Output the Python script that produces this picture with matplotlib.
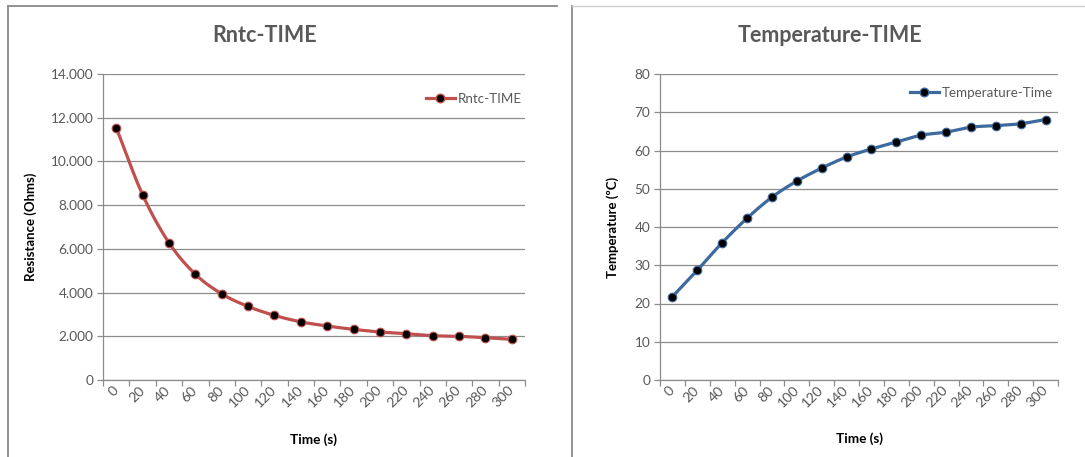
import numpy as np
import matplotlib
matplotlib.use("Agg")
import matplotlib.pyplot as plt
from matplotlib.lines import Line2D
from matplotlib.ticker import FuncFormatter, FixedLocator

plt.rcParams['font.family'] = ['Lato', 'DejaVu Sans']

# Measurements over time
time_s = [0, 20, 40, 60, 80, 100, 120, 140, 160, 180, 200, 220, 240, 260, 280, 300]
resistance_ohm = [11550, 8480, 6280, 4840, 3940, 3365, 2955, 2660, 2470, 2318,
                  2196, 2118, 2027, 1998, 1935, 1862]
temperature_c = [21.8, 28.7, 35.9, 42.3, 47.8, 52.0, 55.4, 58.3, 60.4, 62.2,
                 64.0, 64.8, 66.1, 66.5, 67.0, 68.1]

GRID = '#8c8c8c'
TXT = '#595959'


def smooth_path(x, y, steps=20):
    """Catmull-Rom curve through the given points (display smoothing only)."""
    x = np.asarray(x, float)
    y = np.asarray(y, float)
    px = np.concatenate([[2 * x[0] - x[1]], x, [2 * x[-1] - x[-2]]])
    py = np.concatenate([[2 * y[0] - y[1]], y, [2 * y[-1] - y[-2]]])
    xs, ys = [], []
    t = np.linspace(0, 1, steps, endpoint=False)
    for i in range(1, len(px) - 2):
        for arr, out in ((px, xs), (py, ys)):
            p0, p1, p2, p3 = arr[i - 1], arr[i], arr[i + 1], arr[i + 2]
            out.extend(0.5 * ((2 * p1) + (-p0 + p2) * t
                              + (2 * p0 - 5 * p1 + 4 * p2 - p3) * t ** 2
                              + (-p0 + 3 * p1 - 3 * p2 + p3) * t ** 3))
    xs.append(x[-1])
    ys.append(y[-1])
    return np.array(xs), np.array(ys)


def style_axes(ax, ymax, ystep, fmt):
    ax.set_xlim(-10, 310)
    ax.set_ylim(0, ymax)
    ax.yaxis.set_major_locator(FixedLocator(np.arange(0, ymax + ystep / 2, ystep)))
    ax.yaxis.set_major_formatter(FuncFormatter(fmt))
    ax.xaxis.set_major_locator(FixedLocator(time_s))
    ax.xaxis.set_minor_locator(FixedLocator(np.arange(-10, 311, 20)))
    ax.grid(axis='y', color=GRID, lw=0.9)
    ax.set_axisbelow(True)
    for s in ('top', 'right'):
        ax.spines[s].set_visible(False)
    for s in ('left', 'bottom'):
        ax.spines[s].set_color(GRID)
        ax.spines[s].set_linewidth(0.9)
    ax.tick_params(axis='y', colors=GRID, labelcolor=TXT, labelsize=9.8,
                   length=4, width=0.9, pad=3)
    ax.tick_params(axis='x', which='major', length=0, labelsize=10.2,
                   labelcolor=TXT, pad=6)
    ax.tick_params(axis='x', which='minor', length=4, width=0.9, colors=GRID)
    for lab in ax.get_xticklabels():
        lab.set_rotation(45)
        lab.set_ha('right')
        lab.set_va('center')
        lab.set_rotation_mode('anchor')


fig = plt.figure(figsize=(10.85, 4.57), dpi=100)
W, H = 1085, 457

ax1 = fig.add_axes([103 / W, 1 - 380 / H, 422 / W, 306 / H])
ax2 = fig.add_axes([660 / W, 1 - 380 / H, 398 / W, 306 / H])

style_axes(ax1, 14000, 2000, lambda v, p: f"{v:,.0f}".replace(",", "."))
style_axes(ax2, 80, 10, lambda v, p: f"{v:.0f}")

red = '#C0504D'
blue = '#3D6A9E'

sx, sy = smooth_path(time_s, resistance_ohm)
ax1.plot(sx, sy, color=red, lw=2.3, solid_capstyle='round', zorder=3)
ax1.plot(time_s, resistance_ohm, ls='none', marker='o', ms=6.2,
         mfc='black', mec=red, mew=0.8, zorder=4)

sx, sy = smooth_path(time_s, temperature_c)
ax2.plot(sx, sy, color=blue, lw=2.3, solid_capstyle='round', zorder=3)
ax2.plot(time_s, temperature_c, ls='none', marker='o', ms=6.2,
         mfc='black', mec=blue, mew=0.8, zorder=4)

h1 = Line2D([], [], color=red, lw=2.3, marker='o', ms=6.2, mfc='black', mec=red)
h2 = Line2D([], [], color=blue, lw=2.3, marker='o', ms=6.2, mfc='black', mec=blue)
ax1.legend([h1], ['Rntc-TIME'], loc='upper right', bbox_to_anchor=(1.005, 0.955),
           frameon=False, fontsize=9.6, handlelength=2.2, handletextpad=0.2,
           labelcolor=TXT, borderaxespad=0)
ax2.legend([h2], ['Temperature-Time'], loc='upper right', bbox_to_anchor=(1.0, 0.975),
           frameon=False, fontsize=9.6, handlelength=2.2, handletextpad=0.2,
           labelcolor=TXT, borderaxespad=0)

ax1.set_ylabel('Resistance (Ohms)', fontsize=9.5, fontweight='bold', labelpad=6)
ax2.set_ylabel('Temperature (ºC)', fontsize=9.5, fontweight='bold', labelpad=6)
ax1.yaxis.set_label_coords((37 - 103) / 422, 0.5)
ax2.yaxis.set_label_coords((619 - 660) / 398, 0.5)
ax1.set_xlabel('Time (s)', fontsize=9.8, fontweight='bold')
ax2.set_xlabel('Time (s)', fontsize=9.8, fontweight='bold')
ax1.xaxis.set_label_coords(0.5, -(433 - 380) / 306)
ax2.xaxis.set_label_coords(0.5, -(432 - 380) / 306)

fig.text(265 / W, 1 - 35 / H, 'Rntc-TIME', ha='center', va='center',
         fontsize=15.5, fontweight='bold', color=TXT)
fig.text(830 / W, 1 - 35 / H, 'Temperature-TIME', ha='center', va='center',
         fontsize=15.5, fontweight='bold', color=TXT)

# Chart frames
fig.add_artist(Line2D([8 / W, 8 / W], [0, 1 - 6 / H], transform=fig.transFigure,
                      color='#8a8a8a', lw=1.3))
fig.add_artist(Line2D([8 / W, 557 / W], [1 - 6 / H, 1 - 6 / H], transform=fig.transFigure,
                      color='#8a8a8a', lw=1.3))
fig.add_artist(Line2D([572 / W, 572 / W], [0, 1 - 6 / H], transform=fig.transFigure,
                      color='#8a8a8a', lw=1.3))
fig.add_artist(Line2D([572 / W, 1 - 0.5 / W], [1 - 6 / H, 1 - 6 / H], transform=fig.transFigure,
                      color='#cfcfcf', lw=1.0))

fig.savefig('out.png', dpi=100)
